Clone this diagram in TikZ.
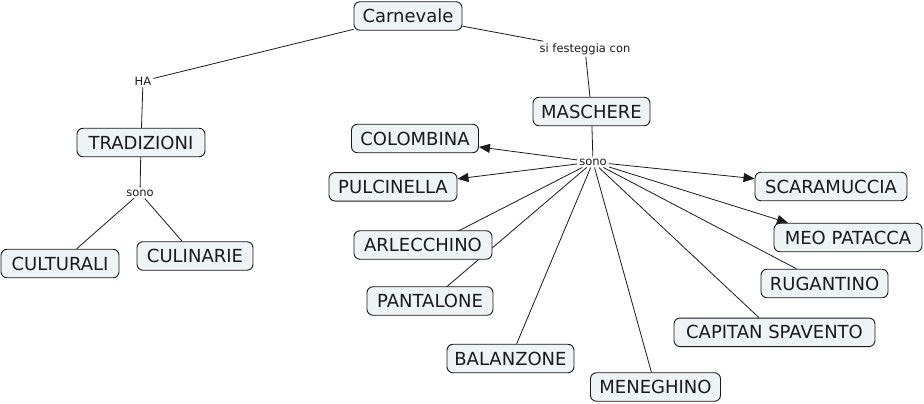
\documentclass[tikz,border=0pt]{standalone}
\usepackage{fontspec}
\setmainfont{DejaVu Sans}
\usetikzlibrary{arrows.meta}
\pgfdeclarelayer{bg}
\pgfsetlayers{bg,main}
\definecolor{boxfill}{HTML}{EEF3F5}
\definecolor{ink}{HTML}{1A1A1A}
\tikzset{
  concept/.style={draw=ink, fill=boxfill, rounded corners=6pt, line width=0.9pt,
    minimum height=28.5pt, inner xsep=3pt, inner ysep=0pt,
    font=\fontsize{18}{21}\selectfont, text=ink},
  linklabel/.style={inner sep=2pt, font=\fontsize{11.5}{13}\selectfont, text=ink},
  conn/.style={draw=ink, line width=0.8pt},
  arr/.style={conn, -{Triangle[length=11pt,width=9pt]}}
}
\begin{document}
\begin{tikzpicture}[x=1pt,y=-1pt]
\useasboundingbox (0,0) rectangle (924,404);
% concepts
\node[concept, minimum width=108pt] (carn) at (408,16) {Carnevale};
\node[concept, minimum width=117pt] (masc) at (591.5,111.5) {MASCHERE};
\node[concept, minimum width=128pt] (trad) at (141,142.5) {TRADIZIONI};
\node[concept, minimum width=127pt] (colo) at (415,138.5) {COLOMBINA};
\node[concept, minimum width=128pt] (pulc) at (393,186.8) {PULCINELLA};
\node[concept, minimum width=152pt] (scar) at (831,186.5) {SCARAMUCCIA};
\node[concept, minimum width=148pt] (meo) at (848,237.5) {MEO PATACCA};
\node[concept, minimum width=127pt] (rug) at (824.5,283.5) {RUGANTINO};
\node[concept, minimum width=201pt] (cap) at (774.5,332.3) {CAPITAN SPAVENTO};
\node[concept, minimum width=138pt] (arle) at (423,245) {ARLECCHINO};
\node[concept, minimum width=126pt] (pant) at (430,301) {PANTALONE};
\node[concept, minimum width=127pt] (bal) at (510.5,358.5) {BALANZONE};
\node[concept, minimum width=130pt] (men) at (655.5,387) {MENEGHINO};
\node[concept, minimum width=118pt] (cult) at (60,263.5) {CULTURALI};
\node[concept, minimum width=116pt] (culi) at (195,256) {CULINARIE};
% link labels
\node[linklabel] (ha) at (143,81) {HA};
\node[linklabel] (sifc) at (585,49) {si festeggia con};
\node[linklabel] (sono1) at (140,193) {sono};
\node[linklabel] (sono2) at (593,162) {sono};
% connectors
\begin{pgfonlayer}{bg}
\draw[conn] (carn) -- (ha);
\draw[conn] (ha) -- (trad);
\draw[conn] (carn) -- (sifc);
\draw[conn] (sifc) -- (masc);
\draw[conn] (trad) -- (sono1);
\draw[conn] (sono1) -- (cult);
\draw[conn] (sono1) -- (culi);
\draw[conn] (masc) -- (sono2);
\draw[arr] (sono2) -- (colo);
\draw[arr] (sono2) -- (pulc);
\draw[arr] (sono2) -- (scar);
\draw[arr] (sono2) -- ([xshift=-60pt]meo.north);
\draw[conn] (sono2) -- (rug);
\draw[conn] (sono2) -- (cap);
\draw[conn] (sono2) -- (men);
\draw[conn] (sono2) -- (bal);
\draw[conn] (sono2) -- (pant.center);
\draw[conn] (sono2) -- ([xshift=8pt]arle.center);
\end{pgfonlayer}
\end{tikzpicture}
\end{document}
